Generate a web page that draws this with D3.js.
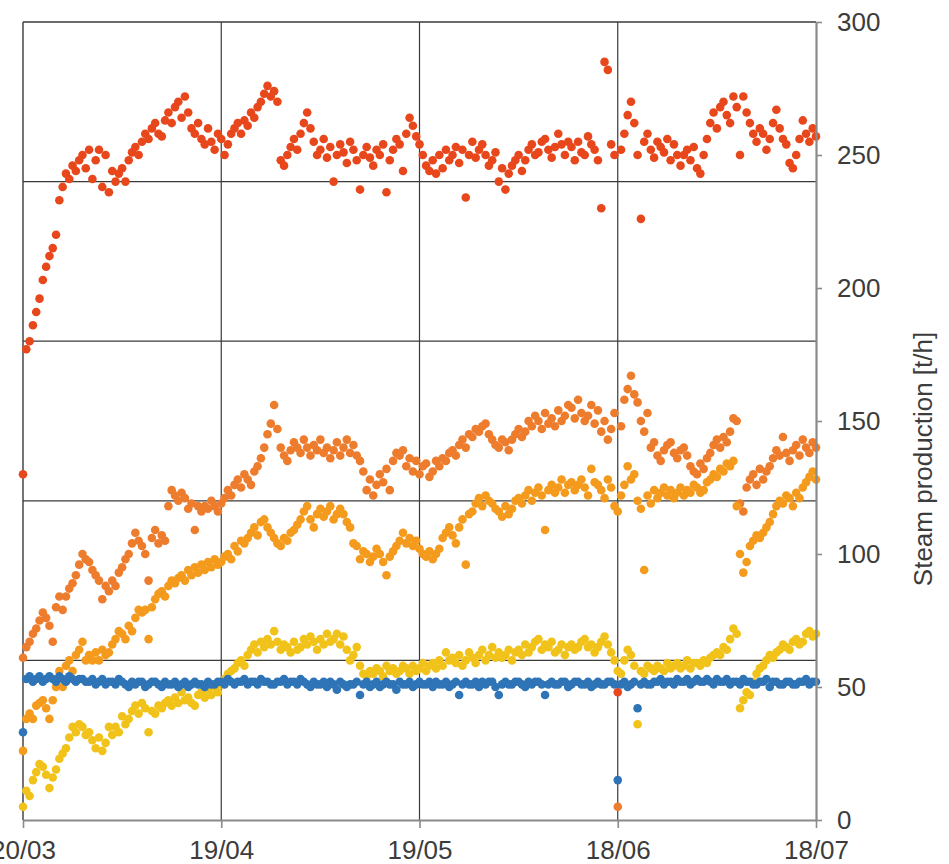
<!DOCTYPE html>
<html><head><meta charset="utf-8">
<script src="https://cdn.jsdelivr.net/npm/d3@7"></script>
<style>body{margin:0;background:#fff}svg{display:block}</style>
</head><body>
<svg id="chart" width="949" height="864"></svg>
<script>
// ---- data (half-day samples starting 20/03) ----
const startDate = "20/03/2021";
const endDate = "18/07/2021";
const xTickLabels = ["20/03", "19/04", "19/05", "18/06", "18/07"];
const yTickValues = [0, 50, 100, 150, 200, 250, 300];
const gridValues = [60, 120, 180, 240];
const axisTitle = "Steam production [t/h]";

const redSeries = [
130,177,180,186,191,196,203,208,212,215,220,233,238,243,241,246,244,248,250,245,
252,241,248,252,238,250,236,244,240,243,245,240,248,251,253,250,255,258,256,260,
262,258,257,263,266,262,268,270,264,272,266,260,258,262,256,254,260,255,252,258,
256,250,254,258,260,262,258,263,261,266,264,268,270,273,276,272,274,270,248,246,
250,253,256,252,258,262,266,260,255,250,252,256,249,253,240,250,254,251,247,255,
252,248,237,250,253,249,246,252,250,254,236,248,252,256,254,244,258,264,261,257,
254,250,246,244,248,243,250,245,252,248,250,253,247,252,234,250,255,249,252,254,
250,246,248,251,240,245,237,243,246,248,250,244,248,252,254,250,251,255,256,252,
249,253,258,254,250,255,253,248,255,251,250,257,254,252,248,230,285,282,254,250,
48,252,258,265,270,262,250,226,255,258,252,249,255,253,251,256,248,254,250,246,
250,252,248,253,245,243,250,256,262,266,260,268,270,265,262,272,268,250,272,266,
262,258,255,260,258,252,256,262,267,260,256,254,247,245,250,256,263,258,255,260,
257];

const orangeSeries = [
61,65,67,70,72,75,78,76,73,67,80,84,79,84,87,89,92,96,100,98,
97,94,92,90,83,88,86,90,88,93,95,98,100,104,108,105,103,100,90,106,
109,104,107,105,118,124,122,120,123,121,117,119,109,118,116,118,117,120,118,116,
119,121,124,122,126,128,125,130,128,126,131,133,136,140,145,149,156,147,140,137,
135,139,142,140,138,143,140,137,141,139,143,138,140,136,139,142,137,140,143,138,
141,137,135,131,124,128,122,126,130,127,132,124,135,138,137,139,133,136,131,135,
130,133,134,129,131,135,133,136,135,138,139,137,141,143,140,145,144,147,146,148,
149,145,143,141,140,143,142,139,143,145,147,144,146,150,148,152,150,147,153,149,
151,148,154,150,152,156,155,151,158,153,150,152,156,149,154,146,150,143,147,153,
5,148,158,162,167,160,157,150,146,153,140,142,137,135,139,141,142,138,136,139,
140,137,133,131,130,134,132,136,138,141,143,140,144,142,146,151,150,119,116,125,
128,130,126,132,128,131,133,136,139,137,144,138,135,139,141,137,143,140,138,142,
140];

const amberSeries = [
26,38,40,38,43,44,45,42,38,45,50,56,50,58,60,56,62,64,67,60,
62,60,63,60,64,62,63,66,68,71,70,68,73,71,76,79,78,79,68,80,
83,85,86,84,88,90,89,91,92,90,94,92,95,93,96,94,97,95,98,96,
97,99,100,98,103,101,105,104,106,108,110,107,112,113,110,108,106,104,103,106,
105,108,109,111,113,116,118,113,110,115,117,114,116,118,113,115,117,115,112,110,
104,103,98,101,100,97,99,102,100,97,92,99,101,103,105,108,104,106,103,105,
102,100,99,101,98,100,102,106,108,110,107,104,110,113,96,115,116,119,121,118,
122,120,119,117,116,114,118,115,117,120,121,119,122,124,120,123,125,122,109,124,
126,123,125,128,123,126,127,124,126,128,125,122,132,127,126,124,121,128,125,118,
116,122,126,133,128,130,120,117,94,122,119,124,121,123,125,122,124,121,123,125,
122,124,123,126,125,123,124,127,128,130,129,132,131,134,133,135,118,100,93,97,
103,105,107,106,108,110,112,115,118,120,119,122,121,118,123,121,125,127,129,131,
128];

const yellowSeries = [
5,11,9,15,18,21,20,17,12,16,19,23,25,27,31,35,33,36,35,32,
33,30,27,31,26,29,35,32,35,33,39,36,38,41,43,40,44,42,33,41,
40,43,42,44,45,43,46,44,48,45,46,44,43,47,48,46,49,47,50,48,
51,53,55,56,57,59,60,58,62,64,66,63,67,65,68,66,71,67,64,66,
65,63,67,64,65,68,66,69,67,64,68,66,70,67,68,70,66,69,64,60,
62,65,58,55,54,56,55,57,56,54,58,56,57,55,56,58,57,55,58,56,
57,59,56,58,59,57,60,58,63,60,61,59,62,58,60,63,61,59,62,64,
60,62,65,61,63,61,62,64,60,63,64,62,66,63,65,67,68,64,66,65,
67,63,64,66,62,65,66,64,65,67,68,65,66,63,65,67,69,66,63,60,
56,55,60,64,62,58,36,56,55,58,57,56,58,57,56,59,57,58,59,57,
58,60,57,59,59,58,60,59,61,62,63,62,65,64,68,72,70,42,45,48,
47,52,55,57,58,60,62,61,63,64,66,65,64,67,68,66,67,70,71,69,
70];

const blueSeries = [
33,53,54,52,53,54,52,53,54,53,52,54,53,52,54,53,52,53,53,52,
52,53,51,52,53,51,52,52,51,53,52,51,50,52,51,52,52,50,51,52,
52,51,50,52,51,51,52,50,51,52,50,51,52,51,51,50,52,51,51,52,
52,51,53,52,51,52,52,53,51,52,52,51,53,52,52,51,51,52,52,53,
51,52,52,51,53,52,51,50,52,51,51,52,50,52,51,49,52,51,50,51,
51,52,47,51,52,50,51,52,50,51,52,51,51,49,52,51,51,52,50,51,
52,51,51,52,50,52,51,51,52,50,51,52,47,51,52,51,51,52,50,52,
51,52,52,50,47,51,52,51,51,52,52,51,50,52,51,52,52,51,47,51,
52,51,51,52,52,50,51,52,52,51,51,52,50,51,52,51,51,52,52,51,
15,51,52,50,51,52,42,51,52,51,51,52,52,53,51,52,52,51,53,52,
52,53,51,52,53,52,52,53,52,51,53,52,52,53,51,52,52,51,53,52,
52,51,51,52,52,53,50,52,52,51,51,52,52,51,51,52,52,53,51,52,
52];

const seriesNames = ["red", "orange", "amber", "yellow", "blue"];
const seriesColors = ["#E8461B", "#EE7C2D", "#F49A1C", "#F1C31A", "#2E74B6"];
const seriesValues = [redSeries, orangeSeries, amberSeries, yellowSeries, blueSeries];

// ---- layout ----
const svg = d3.select("#chart");
const plot = {left: 23, right: 816, top: 22, bottom: 820};
const parse = d3.utcParse("%d/%m/%Y");
const t0 = parse(startDate), t1 = parse(endDate);
const x = d3.scaleUtc().domain([t0, t1]).range([plot.left, plot.right]);
const y = d3.scaleLinear().domain([0, 300]).range([plot.bottom, plot.top]);
const tickDates = xTickLabels.map(l => parse(l + "/2021"));
const fontFamily = "'Liberation Sans', Arial, sans-serif";

// grid
const grid = svg.append("g");
grid.selectAll("line.h").data(gridValues).join("line")
  .attr("x1", plot.left).attr("x2", plot.right)
  .attr("y1", d => y(d)).attr("y2", d => y(d))
  .attr("stroke", "#3a3a3a").attr("stroke-width", 1.2);
grid.selectAll("line.v").data(tickDates.slice(1, -1)).join("line")
  .attr("x1", d => x(d)).attr("x2", d => x(d))
  .attr("y1", plot.top).attr("y2", plot.bottom)
  .attr("stroke", "#3a3a3a").attr("stroke-width", 1.2);
// frame top & left
grid.append("line").attr("x1", plot.left).attr("x2", plot.right)
  .attr("y1", y(300)).attr("y2", y(300)).attr("stroke", "#3a3a3a").attr("stroke-width", 1.4);
grid.append("line").attr("x1", plot.left).attr("x2", plot.left)
  .attr("y1", plot.top).attr("y2", plot.bottom).attr("stroke", "#3a3a3a").attr("stroke-width", 1.4);

// points
seriesValues.forEach((vals, k) => {
  const pts = vals.map((v, i) => ({date: d3.utcHour.offset(t0, i * 12), value: v}));
  svg.append("g").attr("class", "series-" + seriesNames[k])
    .selectAll("circle").data(pts).join("circle")
    .attr("cx", d => x(d.date)).attr("cy", d => y(d.value))
    .attr("r", 4.3).attr("fill", seriesColors[k]);
});

// axes
const axisColor = "#8a8a8a";
const xAxis = svg.append("g").attr("transform", `translate(0,${plot.bottom})`)
  .call(d3.axisBottom(x).tickValues(tickDates).tickFormat(d3.utcFormat("%d/%m")).tickSize(8).tickPadding(13).tickSizeOuter(0));
const yAxis = svg.append("g").attr("transform", `translate(${plot.right},0)`)
  .call(d3.axisRight(y).tickValues(yTickValues).tickSize(6).tickPadding(15).tickSizeOuter(0));
[xAxis, yAxis].forEach(a => {
  a.select(".domain").attr("stroke", axisColor).attr("stroke-width", 2.2);
  a.selectAll(".tick line").attr("stroke", axisColor).attr("stroke-width", 1.6);
  a.selectAll("text").attr("fill", "#3c3c3c").style("font-family", fontFamily).style("font-size", "26px");
});

svg.append("text")
  .attr("transform", "translate(932,459) rotate(-90)")
  .attr("text-anchor", "middle")
  .attr("fill", "#3c3c3c")
  .style("font-family", fontFamily).style("font-size", "26px")
  .text(axisTitle);
</script>
</body></html>
